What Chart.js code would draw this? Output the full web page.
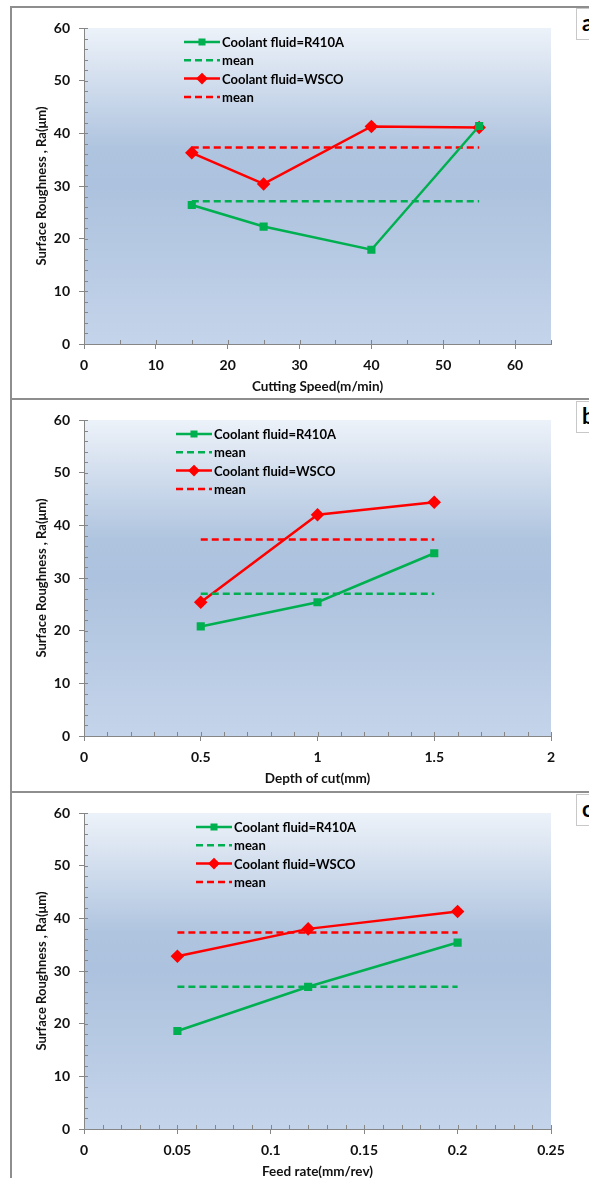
<!DOCTYPE html>
<html>
<head>
<meta charset="utf-8">
<script src="https://cdn.jsdelivr.net/npm/chart.js@4.4.1/dist/chart.umd.min.js"></script>
<style>
    body { margin: 0; width: 589px; height: 1178px; overflow: hidden; background: #fff; position: relative; font-family: Lato, sans-serif; }
    .frame { position: absolute; left: 10px; width: 620px; border: 2px solid #8e8e8e; box-sizing: border-box; }
    .chart-box { position: absolute; left: 12px; width: 577px; height: 390px; }
    .letter { position: absolute; left: 576px; width: 30px; height: 32px; border: 1px solid #c8c8c8; background: #fff;
              font: bold 22px Lato, sans-serif; line-height: 28px; padding-left: 5px; box-sizing: border-box; color: #000; }
</style>
</head>
<body>
<div class="frame" style="top:6px; height:394px;"></div>
<div class="frame" style="top:398px; height:395px;"></div>
<div class="frame" style="top:791px; height:400px;"></div>

<div class="chart-box" style="top:8px;"><canvas id="speedChart"></canvas></div>
<div class="chart-box" style="top:400px;"><canvas id="depthChart"></canvas></div>
<div class="chart-box" style="top:793px;"><canvas id="feedChart"></canvas></div>

<div class="letter" style="top:8px;">a</div>
<div class="letter" style="top:401px;">b</div>
<div class="letter" style="top:794px;">c</div>

<script>
// ---- data ----
const yTicks = [0, 10, 20, 30, 40, 50, 60];

const speedX = [15, 25, 40, 55];
const speedR410A = [26.4, 22.3, 17.9, 41.4];
const speedWSCO = [36.3, 30.4, 41.3, 41.1];
const speedTicks = [0, 10, 20, 30, 40, 50, 60];

const depthX = [0.5, 1, 1.5];
const depthR410A = [20.8, 25.4, 34.7];
const depthWSCO = [25.4, 42.0, 44.4];
const depthTicks = [0, 0.5, 1, 1.5, 2];

const feedX = [0.05, 0.12, 0.2];
const feedR410A = [18.6, 27.0, 35.4];
const feedWSCO = [32.8, 38.0, 41.3];
const feedTicks = [0, 0.05, 0.1, 0.15, 0.2, 0.25];

// mean lines: [speed, depth, feed]
const meanR410A = [27.1, 27.0, 27.0];
const meanWSCO = [37.3, 37.3, 37.3];

const seriesNames = ['Coolant fluid=R410A', 'mean', 'Coolant fluid=WSCO', 'mean'];

const GREEN = '#00b050';
const RED = '#ff0000';
const AXIS = '#868686';

// Excel-like gradient fill behind the plot
const plotBackground = {
    id: 'plotBackground',
    beforeDraw(chart) {
        const { ctx, chartArea: { left, top, right, bottom } } = chart;
        const g = ctx.createLinearGradient(0, top, 0, bottom);
        g.addColorStop(0, '#edf2f9');
        g.addColorStop(0.38, '#afc4df');
        g.addColorStop(0.5, '#adc2de');
        g.addColorStop(1, '#c4d4ea');
        ctx.save();
        ctx.fillStyle = g;
        ctx.fillRect(left, top, right - left, bottom - top);
        ctx.restore();
    }
};

// small inside ticks between the labelled ones
const minorTicks = {
    id: 'minorTicks',
    afterDraw(chart, args, opts) {
        const { ctx, chartArea } = chart;
        const xs = chart.scales.x, ys = chart.scales.y;
        ctx.save();
        ctx.strokeStyle = AXIS;
        ctx.lineWidth = 1;
        ctx.beginPath();
        const nx = Math.round((xs.max - xs.min) / opts.xStep);
        for (let i = 1; i <= nx; i++) {
            const px = Math.round(xs.getPixelForValue(xs.min + i * opts.xStep)) + 0.5;
            ctx.moveTo(px, chartArea.bottom);
            ctx.lineTo(px, chartArea.bottom - 4);
        }
        const ny = Math.round((ys.max - ys.min) / opts.yStep);
        for (let i = 1; i <= ny; i++) {
            const py = Math.round(ys.getPixelForValue(ys.min + i * opts.yStep)) + 0.5;
            ctx.moveTo(chartArea.left, py);
            ctx.lineTo(chartArea.left + 4, py);
        }
        ctx.stroke();
        ctx.restore();
    }
};

// legend drawn inside the plot area, Excel style
const insideLegend = {
    id: 'insideLegend',
    afterDraw(chart, args, opts) {
        const { ctx, chartArea } = chart;
        const x0 = chartArea.left + opts.x;
        ctx.save();
        chart.data.datasets.forEach((ds, i) => {
            const y = chartArea.top + opts.y + i * 18.3;
            ctx.strokeStyle = ds.borderColor;
            ctx.lineWidth = 2.5;
            ctx.setLineDash(ds.borderDash || []);
            ctx.beginPath();
            ctx.moveTo(x0, y);
            ctx.lineTo(x0 + 36, y);
            ctx.stroke();
            ctx.setLineDash([]);
            if (ds.pointRadius > 0) {
                Chart.helpers.drawPoint(ctx, {
                    pointStyle: ds.pointStyle, radius: ds.pointRadius - 0.8, borderWidth: 1, rotation: 0
                }, x0 + 18, y);
                ctx.fillStyle = ds.pointBackgroundColor;
                ctx.fill();
            }
            ctx.fillStyle = '#000';
            ctx.font = 'bold 13px Lato, sans-serif';
            ctx.textBaseline = 'middle';
            ctx.fillText(ds.label, x0 + 38, y + 1);
        });
        ctx.restore();
    }
};

function pts(xs, ys) {
    return xs.map((x, i) => ({ x: x, y: ys[i] }));
}

function meanLine(xs, m) {
    return [{ x: xs[0], y: m }, { x: xs[xs.length - 1], y: m }];
}

function makeChart(id, cfg) {
    const datasets = [
        { label: seriesNames[0], data: pts(cfg.x, cfg.r410a), borderColor: GREEN, backgroundColor: GREEN,
          pointBackgroundColor: GREEN, pointBorderColor: GREEN, pointStyle: 'rect', pointRadius: 4, borderWidth: 2.5 },
        { label: seriesNames[1], data: meanLine(cfg.x, cfg.meanR), borderColor: GREEN, borderDash: [7, 4],
          pointRadius: 0, borderWidth: 2.5 },
        { label: seriesNames[2], data: pts(cfg.x, cfg.wsco), borderColor: RED, backgroundColor: RED,
          pointBackgroundColor: RED, pointBorderColor: RED, pointStyle: 'rectRot', pointRadius: 5, borderWidth: 2.5 },
        { label: seriesNames[3], data: meanLine(cfg.x, cfg.meanW), borderColor: RED, borderDash: [7, 4],
          pointRadius: 0, borderWidth: 2.5 }
    ];

    new Chart(document.getElementById(id), {
        type: 'scatter',
        data: { datasets: datasets.map(d => ({ ...d, showLine: true, tension: 0 })) },
        plugins: [plotBackground, minorTicks, insideLegend],
        options: {
            responsive: true,
            maintainAspectRatio: false,
            animation: false,
            layout: { padding: { top: 20, right: 38, left: 0, bottom: 0 } },
            plugins: {
                legend: { display: false },
                tooltip: { enabled: false },
                minorTicks: { xStep: cfg.minorX, yStep: 2 },
                insideLegend: { x: cfg.legendX, y: 14 }
            },
            scales: {
                x: {
                    type: 'linear',
                    min: 0,
                    max: cfg.xMax,
                    afterBuildTicks: s => { s.ticks = cfg.ticks.map(v => ({ value: v })); },
                    afterFit: s => { s.height = 54; },
                    ticks: {
                        padding: 8,
                        color: '#111',
                        font: { family: 'Lato', size: 14, weight: 'bold' },
                        callback: v => String(v),
                        maxRotation: 0
                    },
                    grid: { drawOnChartArea: false, drawTicks: true, tickLength: 5, color: AXIS },
                    border: { display: true, color: AXIS },
                    title: {
                        display: true,
                        text: cfg.title,
                        color: '#111',
                        font: { family: 'Lato', size: 13.5, weight: 'bold' },
                        padding: { top: 0, bottom: 3 }
                    }
                },
                y: {
                    min: 0,
                    max: 60,
                    afterBuildTicks: s => { s.ticks = yTicks.map(v => ({ value: v })); },
                    afterFit: s => { s.width = 72; },
                    ticks: {
                        padding: 9,
                        color: '#111',
                        font: { family: 'Lato', size: 14, weight: 'bold' }
                    },
                    grid: { drawOnChartArea: false, drawTicks: true, tickLength: 5, color: AXIS },
                    border: { display: true, color: AXIS },
                    title: {
                        display: true,
                        text: 'Surface Roughness , Ra(μm)',
                        color: '#111',
                        font: { family: 'Lato', size: 13, weight: 'bold' },
                        padding: { top: 22, bottom: 0 }
                    }
                }
            }
        }
    });
}

makeChart('speedChart', {
    x: speedX, r410a: speedR410A, wsco: speedWSCO, meanR: meanR410A[0], meanW: meanWSCO[0],
    ticks: speedTicks, xMax: 65, minorX: 5, legendX: 100, title: 'Cutting Speed(m/min)'
});
makeChart('depthChart', {
    x: depthX, r410a: depthR410A, wsco: depthWSCO, meanR: meanR410A[1], meanW: meanWSCO[1],
    ticks: depthTicks, xMax: 2, minorX: 0.1, legendX: 92, title: 'Depth of cut(mm)'
});
makeChart('feedChart', {
    x: feedX, r410a: feedR410A, wsco: feedWSCO, meanR: meanR410A[2], meanW: meanWSCO[2],
    ticks: feedTicks, xMax: 0.25, minorX: 0.01, legendX: 112, title: 'Feed rate(mm/rev)'
});
</script>
</body>
</html>
